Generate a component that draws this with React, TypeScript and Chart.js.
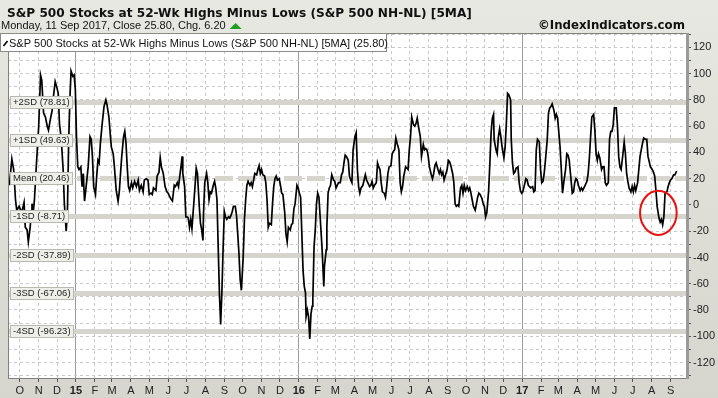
import React, { useEffect, useRef } from 'react';
import { Chart, registerables } from 'chart.js';
Chart.register(...registerables);

const TITLE = 'S&P 500 Stocks at 52-Wk Highs Minus Lows (S&P 500 NH-NL) [5MA]';
const SUBTITLE = 'Monday, 11 Sep 2017, Close 25.80, Chg. 6.20';
const COPYRIGHT = '©IndexIndicators.com';
const LEGEND = 'S&P 500 Stocks at 52-Wk Highs Minus Lows (S&P 500 NH-NL) [5MA] (25.80)';

// x values are days counted from 11 Sep 2014
const START_UTC = Date.UTC(2014, 8, 11);
const X_MIN = 0.7;
const X_MAX = 1112.9;
const Y_MIN = -131.8;
const Y_MAX = 131.0;
const MONTH_LETTERS = ['J', 'F', 'M', 'A', 'M', 'J', 'J', 'A', 'S', 'O', 'N', 'D'];

const sdNames = ['+2SD', '+1SD', 'Mean', '-1SD', '-2SD', '-3SD', '-4SD'];
const sdValues = [78.81, 49.63, 20.46, -8.71, -37.89, -67.06, -96.23];

const days = [
  3, 7, 10, 13, 15, 19, 23, 27, 29, 32, 34, 37, 39, 40, 42, 44, 47, 51, 54, 56, 59, 62, 65, 67, 70, 73, 75, 78, 81, 83,
  85, 88, 91, 93, 96, 98, 100, 102, 104, 107, 109, 111, 113, 115, 117, 120, 122, 124, 126, 128, 132, 135, 137, 139, 141,
  144, 146, 148, 150, 152, 155, 158, 161, 163, 166, 168, 170, 173, 175, 178, 181, 183, 185, 187, 190, 192, 194, 196, 198,
  200, 203, 205, 208, 211, 214, 216, 219, 222, 224, 227,
  230, 232, 235, 237, 239, 243, 245, 248, 250, 252, 255, 258, 261, 263, 267, 270, 273, 275, 278, 280, 282, 284, 286, 287,
  290, 292, 294, 296, 298, 300, 302, 305, 307, 309, 311, 314, 316, 318, 320, 321, 323, 326, 328, 330, 332, 334, 337, 339,
  341, 343, 345, 347, 349, 351, 353, 355, 357, 359, 362, 364, 366, 368, 370, 373, 375, 377, 379, 381, 383, 386, 388, 390,
  392, 394, 397, 399, 401, 403, 405, 408, 410, 412, 414, 416, 418, 421, 423, 425, 427, 429, 432, 434, 436, 438, 440, 442,
  445, 447, 449, 451,
  454, 456, 458, 460, 463, 465, 467, 469, 471, 474, 476, 478, 480, 482, 484, 486, 488, 489, 491, 493, 495, 497, 499, 500,
  502, 504, 506, 508, 510, 512, 515, 516, 518, 519, 522, 523, 525, 527, 529, 531, 534, 536, 538, 540, 542, 545, 547, 549,
  551, 553, 555, 558, 560, 562, 564, 566, 569, 571, 573, 575, 577, 579, 582, 584, 586, 588, 590, 593, 595, 597, 599, 601,
  604, 606, 608, 610, 612, 614, 617, 619, 621, 623, 625, 628, 630, 632, 634, 636, 638, 641, 643, 645, 647, 649, 652, 654,
  656, 658, 660, 662, 665, 667, 669, 671, 673, 676, 678,
  681, 683, 685, 687, 689, 691, 694, 696, 698, 700, 702, 705, 707, 709, 711, 713, 715, 718, 720, 722, 724, 726, 729, 731,
  733, 735, 737, 739, 742, 744, 746, 748, 750, 753, 755, 757, 759, 761, 763, 766, 768, 770, 772, 774, 777, 779, 781, 783,
  785, 788, 790, 792, 794, 796, 797, 800, 802, 804, 806, 808, 810, 813, 815, 817, 819, 821, 824, 825, 827, 829, 831, 833,
  836, 838, 840, 842, 844, 846, 849, 851, 853, 855, 857, 860, 862, 864, 866, 868, 871, 873, 875, 877, 879, 881, 884, 886,
  888, 890, 892, 895, 897,
  899, 901, 903, 905, 907, 909, 911, 914, 916, 918, 920, 922, 925, 927, 929, 931, 933, 935, 938, 940, 942, 944, 946, 949,
  951, 953, 955, 957, 960, 962, 964, 966, 968, 970, 973, 975, 977, 979, 981, 984, 986, 988, 990, 992, 994, 997, 999, 1001,
  1003, 1005, 1008, 1010, 1012, 1014, 1016, 1018, 1021, 1023, 1025, 1027, 1029, 1032, 1034, 1036, 1038, 1040, 1042, 1045,
  1047, 1049, 1051, 1053, 1056, 1058, 1060, 1062, 1064, 1067, 1069, 1071, 1073, 1075, 1077, 1080, 1082, 1084, 1086, 1088,
  1091, 1093, 1096,
];

const nhnl = [
  15, 35, 27, 4, -4, -1, -6, 2, -17, -19, -28, -17, -5, 1, -6, 4, 29, 60, 99, 95, 70, 67, 60, 57, 65, 72, 82, 94, 89, 85,
  62, 50, 27, 1, -20, -6, 47, 80, 102, 98, 99, 88, 50, 29, 27, 29, 14, 24, 3, 11, 29, 52, 50, 37, 14,
  8, 22, 34, 32, 47, 62, 75, 80, 76, 67, 55, 44, 39, 29, 11, 3, 10, 24, 37, 52, 56, 47, 29, 14,
  11, 17, 13, 18, 14, 19, 11, 15, 10, 19, 20,
  19, 8, 9, 8, 13, 11, 22, 25, 36, 29, 24, 14, 10, 9, 5, 3, 15, 14, 17, 14, 22, 29, 37, 24,
  14, -9, -9, -10, -17, -11, -18, 1, 14, 28, 24, -1, -14, -19, -27, -6, 17, 24, 17, 4, 10, 9, 15, 18,
  13, 4, -32, -67, -91, -67, -34, -5, -9, -11, -9, -10, -8, -5, -1, -1, -8, -22, -37, -57, -65, -39, -11, 4,
  15, 18, 15, 17, 14, 19, 24, 23, 27, 30, 24, 27, 23, 22, 17, 4, -17, -14, -15, 1, 14, 20, 22, 19,
  20, 15, 9, 8,
  -6, -22, -28, -17, -19, -15, -14, -3, 1, 15, 13, 9, 6, -22, -50, -62, -67, -85, -80, -85, -102, -83, -77, -72,
  -32, -19, 1, 9, 6, -9, -32, -42, -62, -47, -34, -17, 9, 13, 15, 23, 19, 18, 13, 15, 17, 17, 23, 25,
  32, 38, 37, 34, 22, 19, 17, 42, 52, 55, 27, 14, 9, 13, 15, 19, 23, 19, 17, 14, 15, 18, 13, 15,
  17, 32, 29, 27, 17, 10, 9, 6, 14, 24, 29, 30, 39, 41, 42, 51, 47, 42, 17, 10, 14, 22, 29, 28,
  27, 42, 52, 67, 61, 60, 62, 66, 60, 52, 37,
  46, 42, 43, 42, 37, 29, 23, 20, 24, 30, 32, 27, 24, 27, 23, 25, 19, 24, 27, 34, 33, 30, 24, 17,
  1, -1, 0, -1, 13, 15, 9, 15, 11, 14, 11, 13, 9, 4, -1, -4, 1, 6, 9, 8, 5, 1, -1, -9,
  -6, 11, 32, 55, 66, 69, 50, 42, 39, 52, 58, 52, 44, 36, 44, 62, 85, 84, 80, 50, 32, 24, 25, 28,
  29, 17, 11, 9, 10, 14, 20, 19, 15, 14, 13, 14, 10, 11, 42, 50, 48, 27, 17, 18, 24, 34, 50, 70,
  74, 75, 77, 72, 66,
  69, 66, 55, 44, 27, 9, 17, 27, 39, 38, 34, 24, 9, 10, 17, 20, 19, 15, 11, 13, 11, 13, 15, 18,
  24, 36, 52, 67, 69, 57, 39, 34, 39, 36, 27, 29, 29, 17, 15, 17, 50, 56, 56, 61, 74, 74, 60, 37,
  29, 27, 39, 48, 39, 24, 18, 13, 10, 14, 10, 15, 11, 17, 27, 37, 42, 47, 51, 50,
  50, 37, 33, 29, 27, 25, 22, 11, -1, -10, -13, -11, -15, -9, 9, 10, 14, 17, 19, 20,
  23, 23, 25.8,
];

// highlighted area (red circle): centre and radii in data units
const circleDay = 1066;
const circleValue = -6;
const circleRadiusDays = 30;
const circleRadiusValue = 16.8;

const FONT = '"Liberation Sans", Arial, sans-serif';
const TITLE_FONT = '"DejaVu Sans", Verdana, sans-serif';

type XTick = { day: number; label: string; year: boolean };
const xTicks: XTick[] = [];
for (let y = 2014, m = 9; y < 2017 || (y === 2017 && m <= 8); ) {
  const day = Math.round((Date.UTC(y, m, 1) - START_UTC) / 86400000);
  xTicks.push({ day, label: m === 0 ? String(y).slice(2) : MONTH_LETTERS[m], year: m === 0 });
  m++;
  if (m > 11) {
    m = 0;
    y++;
  }
}
const yearDays = new Set(xTicks.filter((t) => t.year).map((t) => t.day));

// draw text so that it spans the given width (font size chosen to fit)
function fitText(ctx: CanvasRenderingContext2D, text: string, x: number, y: number, w: number, weight: string, family: string) {
  ctx.font = `${weight} 12px ${family}`;
  const m = ctx.measureText(text).width;
  const size = (12 * w) / m;
  ctx.font = `${weight} ${size.toFixed(2)}px ${family}`;
  ctx.fillText(text, x, y);
}

const decor = {
  id: 'decor',
  beforeDraw(chart: any) {
    const { ctx, chartArea: a, width, height } = chart;
    ctx.save();
    const g = ctx.createLinearGradient(0, 0, 0, height);
    g.addColorStop(0, '#e8e8e2');
    g.addColorStop(1, '#d6d6ce');
    ctx.fillStyle = g;
    ctx.fillRect(0, 0, width, height);
    ctx.fillStyle = '#ffffff';
    ctx.fillRect(a.left, a.top, a.right - a.left, a.bottom - a.top);
    ctx.restore();
  },
  beforeDatasetsDraw(chart: any) {
    const { ctx, chartArea: a } = chart;
    const ys = chart.scales.y;
    ctx.save();
    sdValues.forEach((v, i) => {
      const py = Math.round(ys.getPixelForValue(v)) + 0.5;
      ctx.beginPath();
      ctx.lineWidth = 5;
      ctx.strokeStyle = '#d5d5cd';
      ctx.setLineDash(sdNames[i] === 'Mean' ? [18, 5] : []);
      ctx.moveTo(a.left, py);
      ctx.lineTo(a.right, py);
      ctx.stroke();
    });
    ctx.restore();
  },
  afterDatasetsDraw(chart: any) {
    const { ctx, chartArea: a } = chart;
    const xs = chart.scales.x;
    const ys = chart.scales.y;
    ctx.save();
    // SD label boxes (on top of the line)
    ctx.font = `9.5px ${FONT}`;
    ctx.textBaseline = 'middle';
    sdValues.forEach((v, i) => {
      const py = Math.round(ys.getPixelForValue(v));
      const text = `${sdNames[i]} (${v.toFixed(2)})`;
      const w = ctx.measureText(text).width;
      const bx = a.left + 2;
      const bw = Math.ceil(w) + 6;
      ctx.fillStyle = '#efefe9';
      ctx.fillRect(bx, py - 6, bw, 13);
      ctx.strokeStyle = '#b9b9b1';
      ctx.lineWidth = 1;
      ctx.strokeRect(bx + 0.5, py - 5.5, bw - 1, 12);
      ctx.fillStyle = '#222';
      ctx.fillText(text, bx + 3, py + 0.5);
    });
    // red circle
    const cx = xs.getPixelForValue(circleDay);
    const cy = ys.getPixelForValue(circleValue);
    const rx = Math.abs(xs.getPixelForValue(circleDay + circleRadiusDays) - cx);
    const ry = Math.abs(ys.getPixelForValue(circleValue + circleRadiusValue) - cy);
    ctx.beginPath();
    ctx.ellipse(cx, cy, rx, ry, 0, 0, Math.PI * 2);
    ctx.strokeStyle = '#e8110f';
    ctx.lineWidth = 2;
    ctx.stroke();
    ctx.restore();
  },
  afterDraw(chart: any) {
    const { ctx, chartArea: a } = chart;
    ctx.save();
    // frame
    ctx.strokeStyle = '#808080';
    ctx.lineWidth = 1;
    ctx.beginPath();
    ctx.moveTo(a.left + 0.5, a.bottom + 0.5);
    ctx.lineTo(a.left + 0.5, a.top + 0.5);
    ctx.lineTo(a.right, a.top + 0.5);
    ctx.moveTo(a.left, a.bottom + 0.5);
    ctx.lineTo(a.right, a.bottom + 0.5);
    ctx.stroke();
    ctx.fillStyle = '#9a9a9a';
    ctx.fillRect(a.right - 1, a.top, 3, a.bottom - a.top + 1);
    // legend box
    ctx.fillStyle = '#ffffff';
    ctx.fillRect(1, a.top, 386, 18);
    ctx.strokeStyle = '#8a8a8a';
    ctx.strokeRect(0.5, a.top + 0.5, 386, 18);
    ctx.beginPath();
    ctx.strokeStyle = '#000';
    ctx.lineWidth = 1.6;
    ctx.moveTo(3.5, a.top + 13);
    ctx.lineTo(7.5, a.top + 8);
    ctx.stroke();
    ctx.fillStyle = '#111';
    ctx.textBaseline = 'alphabetic';
    ctx.font = `11px ${FONT}`;
    ctx.fillText(LEGEND, 9, a.top + 13.5);
    // titles
    ctx.fillStyle = '#111';
    fitText(ctx, TITLE, 7, 16.5, 465, 'bold', TITLE_FONT);
    ctx.font = `11px ${FONT}`;
    ctx.fillText(SUBTITLE, 1, 28.5);
    const sw = ctx.measureText(SUBTITLE).width;
    ctx.beginPath();
    ctx.fillStyle = '#1f9e1f';
    ctx.moveTo(1 + sw + 4, 29);
    ctx.lineTo(1 + sw + 16, 29);
    ctx.lineTo(1 + sw + 10, 23);
    ctx.closePath();
    ctx.fill();
    ctx.fillStyle = '#111';
    fitText(ctx, COPYRIGHT, 538, 28.5, 147, 'bold', TITLE_FONT);
    ctx.restore();
  },
};

export default function App() {
  const ref = useRef<HTMLCanvasElement | null>(null);
  useEffect(() => {
    document.body.style.margin = '0';
    const canvas = ref.current;
    if (!canvas) return;
    const chart = new Chart(canvas, {
      type: 'line',
      data: {
        datasets: [
          {
            label: LEGEND,
            data: days.map((d, i) => ({ x: d, y: nhnl[i] })),
            borderColor: '#000',
            borderWidth: 1.7,
            pointRadius: 0,
            tension: 0,
            fill: false,
          },
        ],
      },
      options: {
        animation: false,
        responsive: false,
        devicePixelRatio: 1,
        layout: { padding: { left: 8, top: 33, right: 0, bottom: 0 } },
        plugins: { legend: { display: false }, tooltip: { enabled: false } },
        scales: {
          x: {
            type: 'linear',
            min: X_MIN,
            max: X_MAX,
            afterBuildTicks: (s: any) => {
              s.ticks = xTicks.map((t) => ({ value: t.day }));
            },
            afterFit: (s: any) => {
              s.height = 20;
            },
            ticks: {
              autoSkip: false,
              maxRotation: 0,
              minRotation: 0,
              padding: 2,
              color: '#222',
              font: (c: any) => ({
                family: FONT,
                size: 11,
                weight: c.tick && yearDays.has(c.tick.value) ? 'bold' : 'normal',
              }),
              callback: (_v: any, i: number) => xTicks[i]?.label ?? '',
            },
            grid: {
              color: (c: any) => (c.tick && yearDays.has(c.tick.value) ? '#9a9a9a' : '#c9c9c9'),
              tickColor: '#555',
              tickLength: 4,
              lineWidth: 1,
            },
            border: {
              display: false,
              dash: (c: any) => (c.tick && yearDays.has(c.tick.value) ? [] : [3, 3]),
            },
          },
          y: {
            type: 'linear',
            position: 'right',
            min: Y_MIN,
            max: Y_MAX,
            afterFit: (s: any) => {
              s.width = 31;
            },
            ticks: {
              stepSize: 10,
              includeBounds: false,
              autoSkip: false,
              padding: 2,
              color: '#222',
              font: { family: FONT, size: 11 },
              callback: (v: any) => (Math.round(v) % 20 === 0 ? String(Math.round(v)) : ''),
            },
            grid: {
              color: '#c9c9c9',
              tickColor: '#555',
              tickLength: 4,
              lineWidth: 1,
            },
            border: { display: false, dash: [3, 3] },
          },
        },
      },
      plugins: [decor],
    });
    return () => chart.destroy();
  }, []);
  return <canvas ref={ref} width={718} height={398} style={{ display: 'block', width: 718, height: 398 }} />;
}
